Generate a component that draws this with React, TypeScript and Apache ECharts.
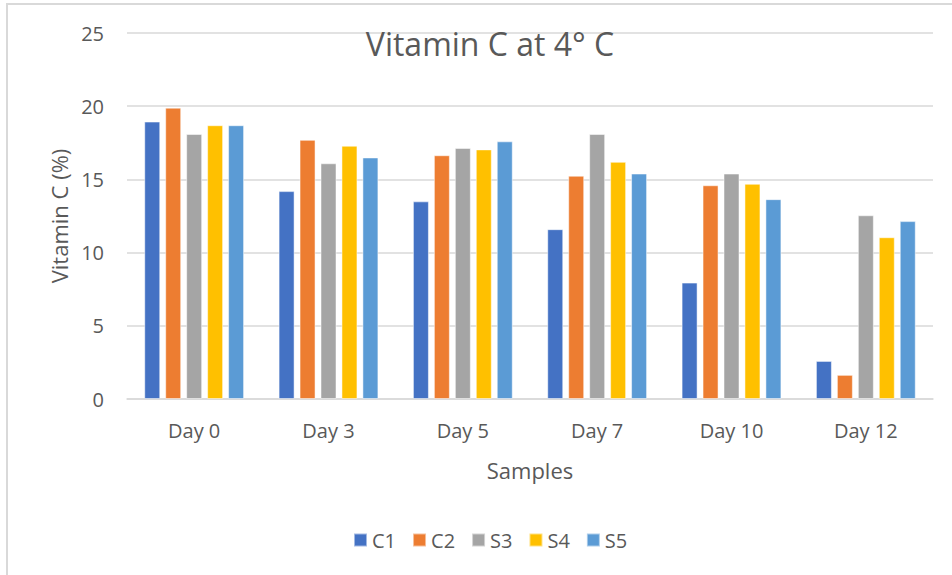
import React, { useEffect, useRef } from "react";
import * as echarts from "echarts";

const categories = ["Day 0", "Day 3", "Day 5", "Day 7", "Day 10", "Day 12"];
const seriesNames = ["C1", "C2", "S3", "S4", "S5"];
const c1 = [18.95, 14.2, 13.5, 11.6, 7.95, 2.6];
const c2 = [19.9, 17.7, 16.65, 15.25, 14.6, 1.65];
const s3 = [18.1, 16.1, 17.15, 18.1, 15.4, 12.55];
const s4 = [18.7, 17.3, 17.05, 16.2, 14.7, 11.05];
const s5 = [18.7, 16.5, 17.6, 15.4, 13.65, 12.15];
const colors = ["#4472C4", "#ED7D31", "#A5A5A5", "#FFC000", "#5B9BD5"];
const yTicks = [0, 5, 10, 15, 20, 25];

export default function App() {
  const ref = useRef<HTMLDivElement>(null);
  useEffect(() => {
    if (!ref.current) return;
    const chart = echarts.init(ref.current, null, { renderer: "svg" });
    const font = "'Open Sans', sans-serif";
    const txt = "#595959";
    const values = [c1, c2, s3, s4, s5];
    chart.setOption({
      animation: false,
      backgroundColor: "#ffffff",
      textStyle: { fontFamily: font },
      title: {
        text: "Vitamin C at 4° C",
        left: 485,
        top: 22,
        textAlign: "center",
        textStyle: { fontFamily: font, fontSize: 32, fontWeight: "normal", color: txt },
      },
      graphic: [
        {
          type: "rect",
          shape: { x: 7, y: 4, width: 980, height: 620 },
          style: { fill: "none", stroke: "#d9d9d9", lineWidth: 2 },
          silent: true,
        },
      ],
      legend: {
        data: seriesNames,
        left: 348,
        top: 525,
        icon: "rect",
        itemWidth: 13,
        itemHeight: 13,
        itemGap: 16,
        textStyle: { fontFamily: font, fontSize: 20, color: txt },
      },
      grid: { left: 127, right: 19, top: 33, bottom: 176, containLabel: false },
      xAxis: {
        type: "category",
        data: categories,
        name: "Samples",
        nameLocation: "middle",
        nameGap: 60,
        nameTextStyle: { fontFamily: font, fontSize: 22, color: txt },
        axisLine: { show: true, lineStyle: { color: "#d9d9d9", width: 1.5 } },
        axisTick: { show: false },
        axisLabel: { margin: 21, fontFamily: font, fontSize: 20, color: txt },
      },
      yAxis: {
        type: "value",
        min: 0,
        max: 25,
        interval: 5,
        name: "Vitamin C (%)",
        nameLocation: "middle",
        nameGap: 56,
        nameRotate: 90,
        nameTextStyle: { fontFamily: font, fontSize: 22, color: txt },
        axisLine: { show: false },
        axisTick: { show: false },
        axisLabel: {
          margin: 23,
          fontFamily: font,
          fontSize: 20,
          color: txt,
          formatter: (v: number) => (yTicks.includes(v) ? String(v) : ""),
        },
        splitLine: { lineStyle: { color: "#d9d9d9", width: 1.5 } },
      },
      series: seriesNames.map((n, i) => ({
        name: n,
        type: "bar",
        data: values[i],
        barWidth: 16,
        barGap: "31%",
        itemStyle: { color: colors[i], borderColor: "rgba(255,255,255,0.5)", borderWidth: 1 },
      })),
    });
    return () => chart.dispose();
  }, []);
  return (
    <div
      ref={ref}
      style={{ position: "fixed", left: 0, top: 0, width: 952, height: 575 }}
    />
  );
}
